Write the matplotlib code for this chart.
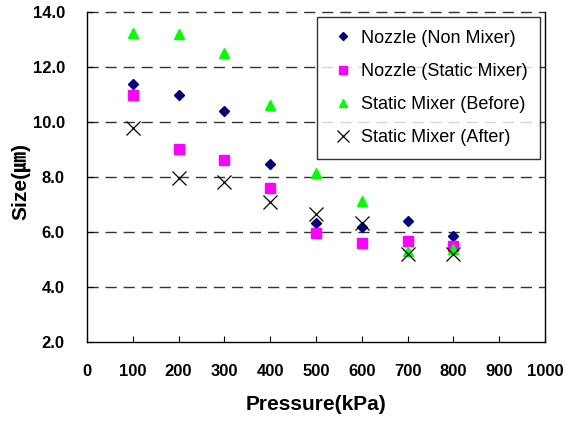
import matplotlib
matplotlib.use('Agg')
import matplotlib.pyplot as plt
from matplotlib.ticker import FormatStrFormatter

plt.rcParams['font.family'] = ['Liberation Sans', 'Noto Sans CJK KR']

# 데이터
pressure = [100, 200, 300, 400, 500, 600, 700, 800]
nozzle_non = [11.38, 10.98, 10.41, 8.48, 6.32, 6.19, 6.40, 5.84]
nozzle_static = [10.98, 9.01, 8.61, 7.61, 5.97, 5.61, 5.68, 5.49]
mixer_before = [13.25, 13.19, 12.50, 10.61, 8.16, 7.14, 5.31, 5.37]
mixer_after = [9.77, 7.97, 7.81, 7.08, 6.65, 6.32, 5.20, 5.20]

fig = plt.figure(figsize=(5.65, 4.21), dpi=100)
ax = fig.add_axes([0.154, 0.1876, 0.8106, 0.7839])

ax.plot(pressure, nozzle_non, 'D', color='#000080', markersize=5.5, label='Nozzle (Non Mixer)')
ax.plot(pressure, nozzle_static, 's', color='#FF00FF', markersize=6.5, label='Nozzle (Static Mixer)')
ax.plot(pressure, mixer_before, '^', color='#00FF00', markersize=7.5, label='Static Mixer (Before)')
ax.plot(pressure, mixer_after, 'x', color='black', markersize=10, markeredgewidth=0.9, label='Static Mixer (After)')

ax.set_xlim(0, 1000)
ax.set_ylim(2, 14)
ax.set_xticks(range(0, 1001, 100))
ax.set_yticks([2, 4, 6, 8, 10, 12, 14])
ax.yaxis.set_major_formatter(FormatStrFormatter('%.1f'))

for v in [4, 6, 8, 10, 12, 14]:
    ax.axhline(v, color='#333333', linestyle=(0, (8, 5)), linewidth=1.0, zorder=0, clip_on=False)

ax.spines['top'].set_visible(False)
for s in ['left', 'bottom', 'right']:
    ax.spines[s].set_linewidth(1.0)

ax.tick_params(direction='in', length=4, width=0.8, pad=16, labelsize=12)
for t in ax.get_xticklabels() + ax.get_yticklabels():
    t.set_fontweight('bold')

ax.set_xlabel('Pressure(kPa)', fontsize=15, fontweight='bold')
ax.set_ylabel('Size(㎛)', fontsize=15, fontweight='bold')
ax.xaxis.set_label_coords(0.5, -0.16)
ax.yaxis.set_label_coords(-0.124, 0.485)

leg = ax.legend(loc='upper right', bbox_to_anchor=(0.989, 0.985), fontsize=13,
                frameon=True, fancybox=False, edgecolor='black', handletextpad=0.3,
                handlelength=1.4, labelspacing=0.9, borderpad=0.7, borderaxespad=0,
                markerscale=0.8)
leg.get_frame().set_linewidth(1.0)

fig.savefig('out.png', dpi=100)
